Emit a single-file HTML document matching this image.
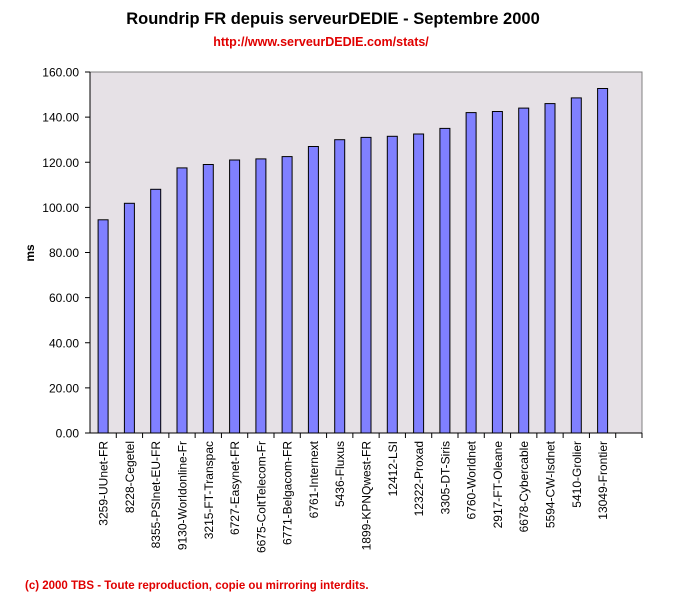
<!DOCTYPE html>
<html><head><meta charset="utf-8"><style>
body{margin:0;background:#fff;}
svg{display:block;font-family:"Liberation Sans",Arial,sans-serif;}
</style></head><body>
<svg width="674" height="596" xmlns="http://www.w3.org/2000/svg">
<text x="333" y="24" text-anchor="middle" font-size="16.5" font-weight="bold" fill="#000">Roundrip FR depuis serveurDEDIE - Septembre 2000</text>
<text x="321" y="46" text-anchor="middle" font-size="12.5" font-weight="bold" fill="#e00000">http://www.serveurDEDIE.com/stats/</text>
<rect x="90" y="72" width="552" height="361" fill="#e6e1e6" stroke="#808080" stroke-width="1"/>
<line x1="90" y1="72" x2="90" y2="433" stroke="#000"/>
<line x1="90" y1="433" x2="642" y2="433" stroke="#000"/>
<g id="bars" fill="#8080ff" stroke="#000" stroke-width="1"></g>
<g id="ticks" stroke="#000"></g>
<g id="ylab" font-size="12" text-anchor="end" fill="#000"></g>
<g id="xlab" font-size="12" text-anchor="end" fill="#000"></g>
<text transform="translate(34,253) rotate(-90)" text-anchor="middle" font-size="12" font-weight="bold">ms</text>
<text x="25" y="589" font-size="11.5" font-weight="bold" fill="#e00000">(c) 2000 TBS - Toute reproduction, copie ou mirroring interdits.</text>
</svg>
<script>
var ns="http://www.w3.org/2000/svg";
function el(p,t,a,txt){var e=document.createElementNS(ns,t);for(var k in a)e.setAttribute(k,a[k]);if(txt)e.textContent=txt;document.getElementById(p).appendChild(e);}
var vals=[94.5,101.8,108,117.5,119,121,121.5,122.5,127,130,131,131.5,132.5,135,142,142.5,144,146,148.5,152.7];
var names=["3259-UUnet-FR","8228-Cegetel","8355-PSInet-EU-FR","9130-Worldonline-Fr","3215-FT-Transpac","6727-Easynet-FR","6675-ColtTelecom-Fr","6771-Belgacom-FR","6761-Internext","5436-Fluxus","1899-KPNQwest-FR","12412-LSI","12322-Proxad","3305-DT-Siris","6760-Worldnet","2917-FT-Oleane","6678-Cybercable","5594-CW-Isdnet","5410-Grolier","13049-Frontier"];
var sw=552/21;
for(var i=0;i<20;i++){var cx=90+sw*(i+0.5);var h=vals[i]*361/160;
el("bars","rect",{x:(cx-5).toFixed(1),y:(433-h).toFixed(1),width:10,height:h.toFixed(1)});
el("xlab","text",{transform:"translate("+(cx+4.5).toFixed(1)+",441) rotate(-90)"},names[i]);}
for(var i=1;i<=21;i++){var x=90+sw*i;el("ticks","line",{x1:x,y1:433,x2:x,y2:438});}
for(var j=0;j<=8;j++){var y=433-j*45.125;el("ticks","line",{x1:85,y1:y,x2:90,y2:y});
el("ylab","text",{x:79,y:(y+4.5).toFixed(1)},(j*20).toFixed(2));}
</script>
</body></html>
